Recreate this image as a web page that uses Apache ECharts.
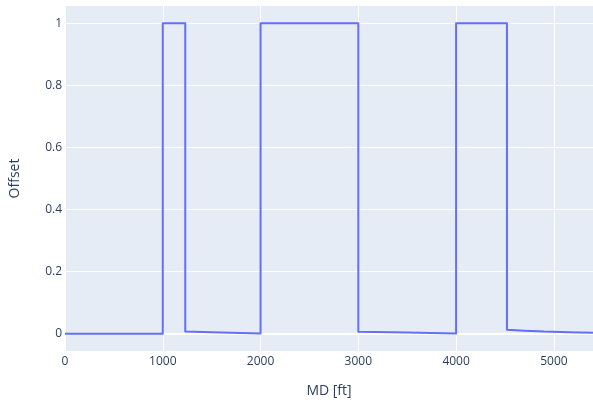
<!DOCTYPE html>
<html>
<head>
<meta charset="utf-8">
<script src="https://cdn.jsdelivr.net/npm/echarts@6/dist/echarts.min.js"></script>
<style>html,body{margin:0;padding:0;background:#fff}#c{width:593px;height:408px}</style>
</head>
<body>
<div id="c"></div>
<script>
var md = [0, 1000, 1000, 1230, 1230, 1500, 2000, 2000, 3000, 3000, 3500, 4000, 4000, 4520, 4520, 4700, 4900, 5150, 5400];
var offset = [0, 0, 1, 1, 0.007, 0.005, 0.001, 1, 1, 0.006, 0.004, 0.001, 1, 1, 0.013, 0.010, 0.007, 0.005, 0.003];
var xTicks = [0, 1000, 2000, 3000, 4000, 5000];
var yTicks = [0, 0.2, 0.4, 0.6, 0.8, 1];
var xRange = [0, 5400];
var yRange = [-0.0556, 1.0556];

var chart = echarts.init(document.getElementById('c'));
var font = '"Open Sans", "Noto Sans", sans-serif';
var textColor = '#2a3f5f';
var gridLines = yTicks.map(function (v) {
  return { yAxis: v, lineStyle: { width: v === 0 ? 2 : 1 } };
});
chart.setOption({
  animation: false,
  backgroundColor: '#ffffff',
  grid: { left: 64, top: 6, right: 0, bottom: 57, show: true, backgroundColor: '#E5ECF6', borderWidth: 0 },
  xAxis: {
    type: 'value', min: xRange[0], max: xRange[1], interval: 1000,
    name: 'MD [ft]', nameLocation: 'middle', nameGap: 33,
    nameTextStyle: { color: textColor, fontSize: 14, fontFamily: font },
    axisLine: { show: false }, axisTick: { show: false },
    axisLabel: { color: textColor, fontSize: 12, fontFamily: font, margin: 5, showMaxLabel: true,
      customValues: xTicks, formatter: function (v) { return String(v); } },
    splitLine: { show: true, lineStyle: { color: '#ffffff', width: 1 } }
  },
  yAxis: {
    type: 'value', min: yRange[0], max: yRange[1],
    name: 'Offset', nameLocation: 'middle', nameGap: 43,
    nameTextStyle: { color: textColor, fontSize: 14, fontFamily: font },
    axisLine: { show: false }, axisTick: { show: false },
    axisLabel: { color: textColor, fontSize: 12, fontFamily: font, margin: 3, customValues: yTicks,
      formatter: function (v) { return String(Math.round(v * 10) / 10); } },
    splitLine: { show: false }
  },
  series: [{
    type: 'line',
    data: md.map(function (x, i) { return [x, offset[i]]; }),
    showSymbol: false, symbol: 'none',
    lineStyle: { color: '#636efa', width: 2, join: 'round' },
    itemStyle: { color: '#636efa' },
    z: 3,
    markLine: {
      silent: true, symbol: 'none', label: { show: false },
      lineStyle: { color: '#ffffff', type: 'solid', width: 1 },
      data: gridLines, z: 1
    }
  }]
});
</script>
</body>
</html>
